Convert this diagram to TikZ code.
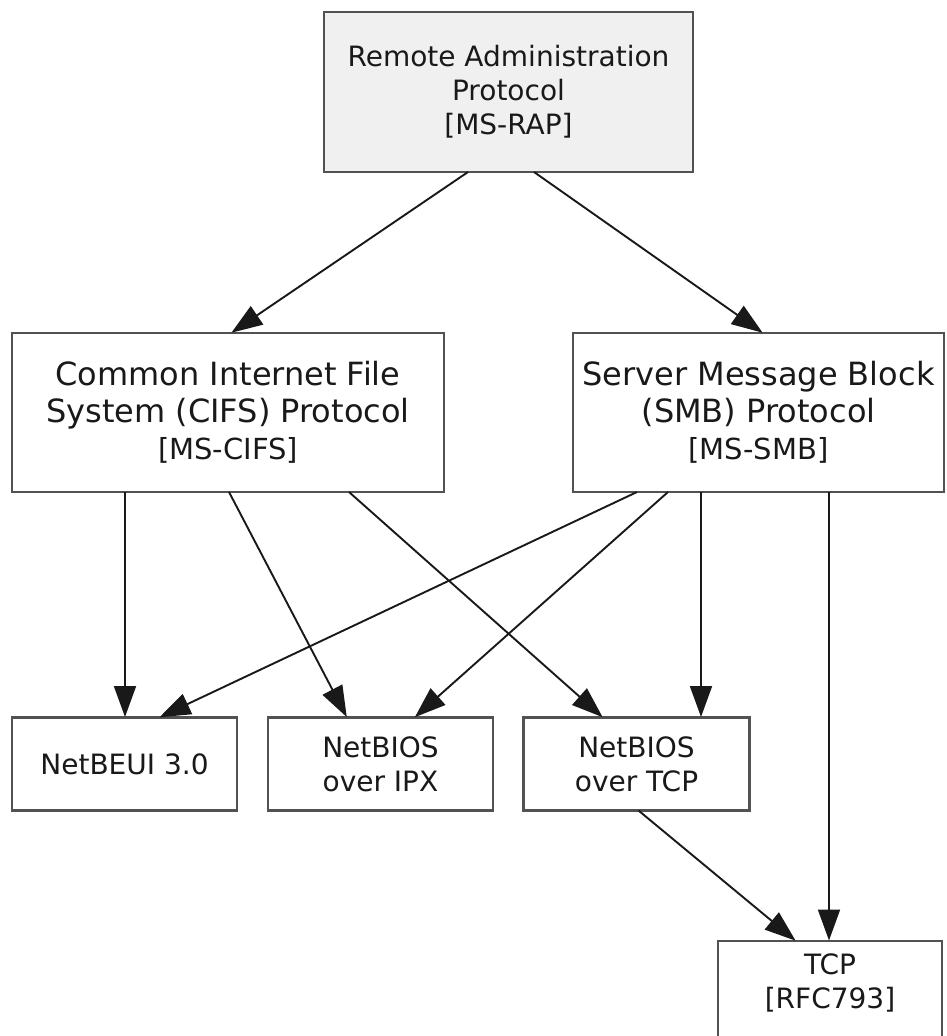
\documentclass[tikz,border=0pt]{standalone}
\usepackage{fontspec}
\setmainfont{DejaVu Sans}
\usetikzlibrary{arrows.meta,calc}
\tikzset{
  box/.style={draw=black!68, line width=2.8pt, fill=white, align=center, text=black!90,
    inner sep=0pt, outer sep=0pt, font=\fontsize{28}{34}\selectfont},
  bigbox/.style={box, font=\fontsize{32}{37}\selectfont},
  conn/.style={draw=black!90, line width=1.9pt, -{Triangle[length=31pt,width=22pt]}, shorten >=0.5pt},
}
\newcommand{\brk}[1]{{\fontsize{29}{35}\selectfont #1}}
\begin{document}
\begin{tikzpicture}[x=1pt,y=-1pt]
\useasboundingbox (0,0) rectangle (947,1036);
% nodes
\node[box, fill=black!6, minimum width=369pt, minimum height=160pt] (rap) at (508.5,92)
  {Remote Administration\\Protocol\\{[}MS-RAP]};
\node[bigbox, minimum width=432pt, minimum height=159pt] (cifs) at (228,412.5)
  {Common Internet File\\System (CIFS) Protocol\\\brk{[MS-CIFS]}};
\node[bigbox, minimum width=371pt, minimum height=159pt] (smb) at (758.5,412.5)
  {Server Message Block\\(SMB) Protocol\\\brk{[MS-SMB]}};
\node[box, minimum width=225pt, minimum height=93pt] (nbe) at (124.5,764)
  {NetBEUI 3.0};
\node[box, minimum width=225pt, minimum height=93pt] (ipx) at (380.5,764)
  {NetBIOS\\over IPX};
\node[box, minimum width=226pt, minimum height=93pt] (nbt) at (636.5,764)
  {NetBIOS\\over TCP};
\node[box, minimum width=224pt, minimum height=100pt] (tcp) at (830,991)
  {TCP\\{[}RFC793]\rule[-20pt]{0pt}{1pt}};
% connectors
\draw[conn] ($(rap.south)+(-40.5,0)$) -- ($(cifs.north)+(3,0)$);
\draw[conn] ($(rap.south)+(25.5,0)$) -- ($(smb.north)+(4.5,0)$);
\draw[conn] ($(cifs.south)+(-103,0)$) -- ($(nbe.north)+(0.5,0)$);
\draw[conn] ($(cifs.south)+(1,0)$) -- ($(ipx.north)+(-33.5,0)$);
\draw[conn] ($(cifs.south)+(121,0)$) -- ($(nbt.north)+(-33.5,0)$);
\draw[conn] ($(smb.south)+(-121.5,0)$) -- ($(nbe.north)+(34.5,0)$);
\draw[conn] ($(smb.south)+(-90.5,0)$) -- ($(ipx.north)+(34,0)$);
\draw[conn] ($(smb.south)+(-57.5,0)$) -- ($(nbt.north)+(64.5,0)$);
\draw[conn] ($(smb.south)+(70.5,0)$) -- ($(tcp.north)+(-1,0)$);
\draw[conn] ($(nbt.south)+(2,0)$) -- ($(tcp.north)+(-34,0)$);
\end{tikzpicture}
\end{document}
